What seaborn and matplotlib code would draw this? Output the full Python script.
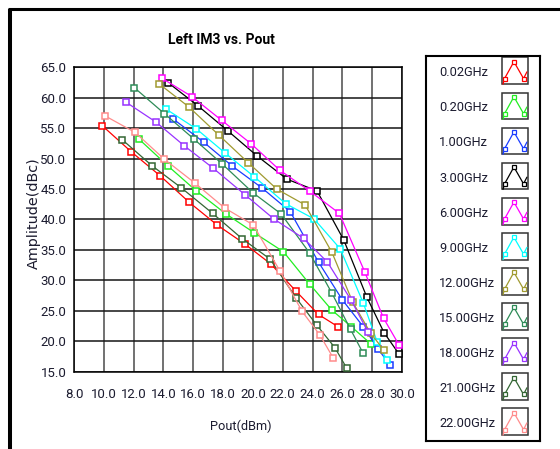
import matplotlib
matplotlib.use("Agg")
import matplotlib.pyplot as plt
from matplotlib.lines import Line2D
from matplotlib.patches import Rectangle
from matplotlib.ticker import MultipleLocator, FormatStrFormatter
import pandas as pd
import seaborn as sns

# ---- data: Pout (dBm) and left IM3 (dBc) per tone frequency ----
frequencies = ["0.02GHz", "0.20GHz", "1.00GHz", "3.00GHz", "6.00GHz", "9.00GHz",
               "12.00GHz", "15.00GHz", "18.00GHz", "21.00GHz", "22.00GHz"]
line_colors = ["#ff0000", "#22ee22", "#1a3cff", "#000000", "#ff00ff", "#00ffff",
               "#a09a30", "#2e8b57", "#9933ff", "#336633", "#ff8c8c"]

pout_0p02 = [9.9, 11.85, 13.77, 15.74, 17.6, 19.5, 21.2, 22.9, 24.4, 25.7]
im3_0p02 = [55.4, 51.1, 47.2, 42.8, 39.1, 35.9, 32.7, 28.2, 24.4, 22.4]

pout_0p20 = [12.36, 14.3, 16.2, 18.2, 20.1, 22.05, 23.8, 25.3, 26.6, 27.9]
im3_0p20 = [53.2, 48.8, 44.7, 40.9, 37.8, 34.7, 29.4, 25.1, 22.4, 19.6]

pout_1p00 = [14.66, 16.7, 18.6, 20.6, 22.5, 24.4, 26.0, 27.4, 28.4, 29.2]
im3_1p00 = [56.5, 52.7, 48.8, 45.2, 41.3, 33.0, 26.8, 22.4, 18.7, 16.1]

pout_3p00 = [14.3, 16.3, 18.3, 20.3, 22.3, 24.3, 26.1, 27.65, 28.8, 29.8]
im3_3p00 = [62.5, 58.7, 54.6, 50.4, 46.6, 44.7, 36.6, 27.2, 21.4, 17.9]

pout_6p00 = [13.9, 15.9, 17.9, 19.9, 21.8, 23.8, 25.8, 27.5, 28.76, 29.8]
im3_6p00 = [63.2, 60.2, 56.3, 52.4, 48.1, 44.7, 41.0, 31.4, 23.8, 19.4]

pout_9p00 = [14.2, 16.2, 18.1, 20.1, 22.2, 24.1, 25.85, 27.4, 28.35, 29.0]
im3_9p00 = [58.1, 54.9, 51.0, 47.0, 42.6, 40.1, 35.2, 26.3, 19.8, 16.9]

pout_12p00 = [13.7, 15.7, 17.7, 19.7, 21.6, 23.5, 25.3, 26.7, 27.9, 28.8]
im3_12p00 = [62.3, 58.5, 53.9, 49.3, 45.0, 42.4, 34.6, 26.4, 21.3, 18.5]

pout_15p00 = [12.05, 14.06, 16.05, 17.95, 20.0, 21.9, 23.8, 25.3, 26.55, 27.4]
im3_15p00 = [61.65, 57.4, 53.2, 49.1, 44.4, 40.9, 34.5, 27.9, 21.95, 18.0]

pout_18p00 = [11.47, 13.5, 15.4, 17.35, 19.5, 21.4, 23.4, 25.0, 26.6, 27.7]
im3_18p00 = [59.3, 56.0, 52.1, 48.4, 44.0, 40.1, 36.9, 33.0, 26.7, 21.6]

pout_21p00 = [11.24, 13.25, 15.2, 17.3, 19.3, 21.15, 22.9, 24.3, 25.5, 26.3]
im3_21p00 = [53.1, 48.8, 45.2, 41.0, 36.8, 33.5, 27.1, 22.6, 18.95, 15.55]

pout_22p00 = [10.1, 12.1, 14.06, 16.1, 18.1, 20.03, 21.8, 23.3, 24.5, 25.4]
im3_22p00 = [57.0, 54.3, 49.9, 46.0, 41.9, 39.1, 31.6, 24.9, 21.0, 17.2]

pout_series = [pout_0p02, pout_0p20, pout_1p00, pout_3p00, pout_6p00, pout_9p00,
               pout_12p00, pout_15p00, pout_18p00, pout_21p00, pout_22p00]
im3_series = [im3_0p02, im3_0p20, im3_1p00, im3_3p00, im3_6p00, im3_9p00,
              im3_12p00, im3_15p00, im3_18p00, im3_21p00, im3_22p00]

df = pd.concat(
    [pd.DataFrame({"Pout": p, "IM3": v, "Frequency": f})
     for f, p, v in zip(frequencies, pout_series, im3_series)],
    ignore_index=True,
)

# ---- style / fonts ----
sns.set_style("white")
plt.rcParams["font.family"] = ["Roboto", "DejaVu Sans"]
TEXT_FAMILY = ["Roboto", "DejaVu Sans"]

W, H = 560, 449
fig = plt.figure(figsize=(W / 100, H / 100), dpi=100)
fig.patch.set_facecolor("white")

ax_l, ax_r, ax_t, ax_b = 74, 402, 67.3, 371.7
ax = fig.add_axes([ax_l / W, 1 - ax_b / H, (ax_r - ax_l) / W, (ax_b - ax_t) / H])

for freq, color in zip(frequencies, line_colors):
    sub = df[df["Frequency"] == freq]
    sns.lineplot(data=sub, x="Pout", y="IM3", ax=ax, color=color, lw=0.9,
                 marker="s", markersize=4.8, markerfacecolor="white",
                 markeredgecolor=color, markeredgewidth=1.1,
                 sort=False, estimator=None, legend=False, zorder=3)

ax.set_xlim(8, 30)
ax.set_ylim(15, 65)
ax.xaxis.set_major_locator(MultipleLocator(2))
ax.xaxis.set_minor_locator(MultipleLocator(0.5))
ax.yaxis.set_major_locator(MultipleLocator(5))
ax.yaxis.set_minor_locator(MultipleLocator(2.5))
ax.xaxis.set_major_formatter(FormatStrFormatter("%.1f"))
ax.yaxis.set_major_formatter(FormatStrFormatter("%.1f"))

ax.grid(True, which="major", axis="x", color="#4a4a4a", lw=1.1, zorder=0)
ax.grid(True, which="major", axis="y", color="#151515", lw=1.1, zorder=0)
ax.set_axisbelow(True)

for side in ("top", "right", "left"):
    ax.spines[side].set_color("black")
    ax.spines[side].set_linewidth(1.1)
ax.spines["bottom"].set_position(("outward", 3))
ax.spines["bottom"].set_visible(False)
ax.axhline(15, color="black", lw=1.1, clip_on=False, zorder=2)

tick_color = "#1b1b2f"
ax.tick_params(axis="x", which="major", direction="out", length=4.5, width=1.0,
               color="#222222", pad=4, labelsize=9.5, labelcolor=tick_color)
ax.tick_params(axis="x", which="minor", direction="out", length=3.5, width=1.0,
               color="#222222")
ax.tick_params(axis="y", which="major", direction="out", length=4, width=1.0,
               color="#222222", pad=1.5, labelsize=9.5, labelcolor=tick_color)
ax.tick_params(axis="y", which="minor", direction="out", length=2.2, width=1.0,
               color="#222222")
ax.set_xlabel("")
ax.set_ylabel("")

# ---- titles and axis labels ----
fig.text(221.7 / W, 1 - 40 / H, "Left IM3 vs. Pout", ha="center", va="center",
         fontsize=10, fontweight="bold", color="black", family=TEXT_FAMILY)
fig.text(240.5 / W, 1 - 426 / H, "Pout(dBm)", ha="center", va="center",
         fontsize=9.2, color="#1b1b2f", family=TEXT_FAMILY)
fig.text(34 / W, 1 - 213.4 / H, "Amplitude(dBc)", ha="center", va="center",
         rotation=90, fontsize=10.4, color="#1b1b2f", family=["DejaVu Sans"])

# ---- legend panel ----
lg_l, lg_r, lg_t, lg_b = 425.7, 540, 56, 440.7
lax = fig.add_axes([lg_l / W, 1 - lg_b / H, (lg_r - lg_l) / W, (lg_b - lg_t) / H])
lax.set_xlim(lg_l, lg_r)
lax.set_ylim(lg_b, lg_t)
lax.set_xticks([])
lax.set_yticks([])
for sp in lax.spines.values():
    sp.set_color("black")
    sp.set_linewidth(1.5)

icon_x, icon_w, icon_h = 501.7, 26, 26.7
glyph_u = [0.05, 0.11, 0.47, 0.84, 0.97]
glyph_v = [1.0, 0.79, 0.16, 0.79, 0.54]
for i, (freq, color) in enumerate(zip(frequencies, line_colors)):
    yc = 72.8 + i * 35.1
    lax.text(439, yc, freq, ha="left", va="center", fontsize=9.2,
             color="#1b1b2f", family=TEXT_FAMILY)
    top = yc - 2 - icon_h / 2
    lax.add_patch(Rectangle((icon_x, top), icon_w, icon_h, facecolor="white",
                            edgecolor="#333333", lw=1.1))
    gx = [icon_x + u * icon_w for u in glyph_u]
    gy = [top + v * icon_h for v in glyph_v]
    lax.plot(gx, gy, color=color, lw=0.9)
    lax.plot(gx[1:4], gy[1:4], "s", ms=3.3, mfc="white", mec=color, mew=0.9)

# ---- outer frame ----
fig.add_artist(Line2D([10.3 / W, 10.3 / W], [0, 1 - 9 / H],
                      transform=fig.transFigure, color="black", lw=2.9,
                      solid_capstyle="butt"))
fig.add_artist(Line2D([8.3 / W, 1], [1 - 9 / H, 1 - 9 / H],
                      transform=fig.transFigure, color="black", lw=2.2,
                      solid_capstyle="butt"))

fig.savefig("out.png", dpi=100, facecolor="white")
